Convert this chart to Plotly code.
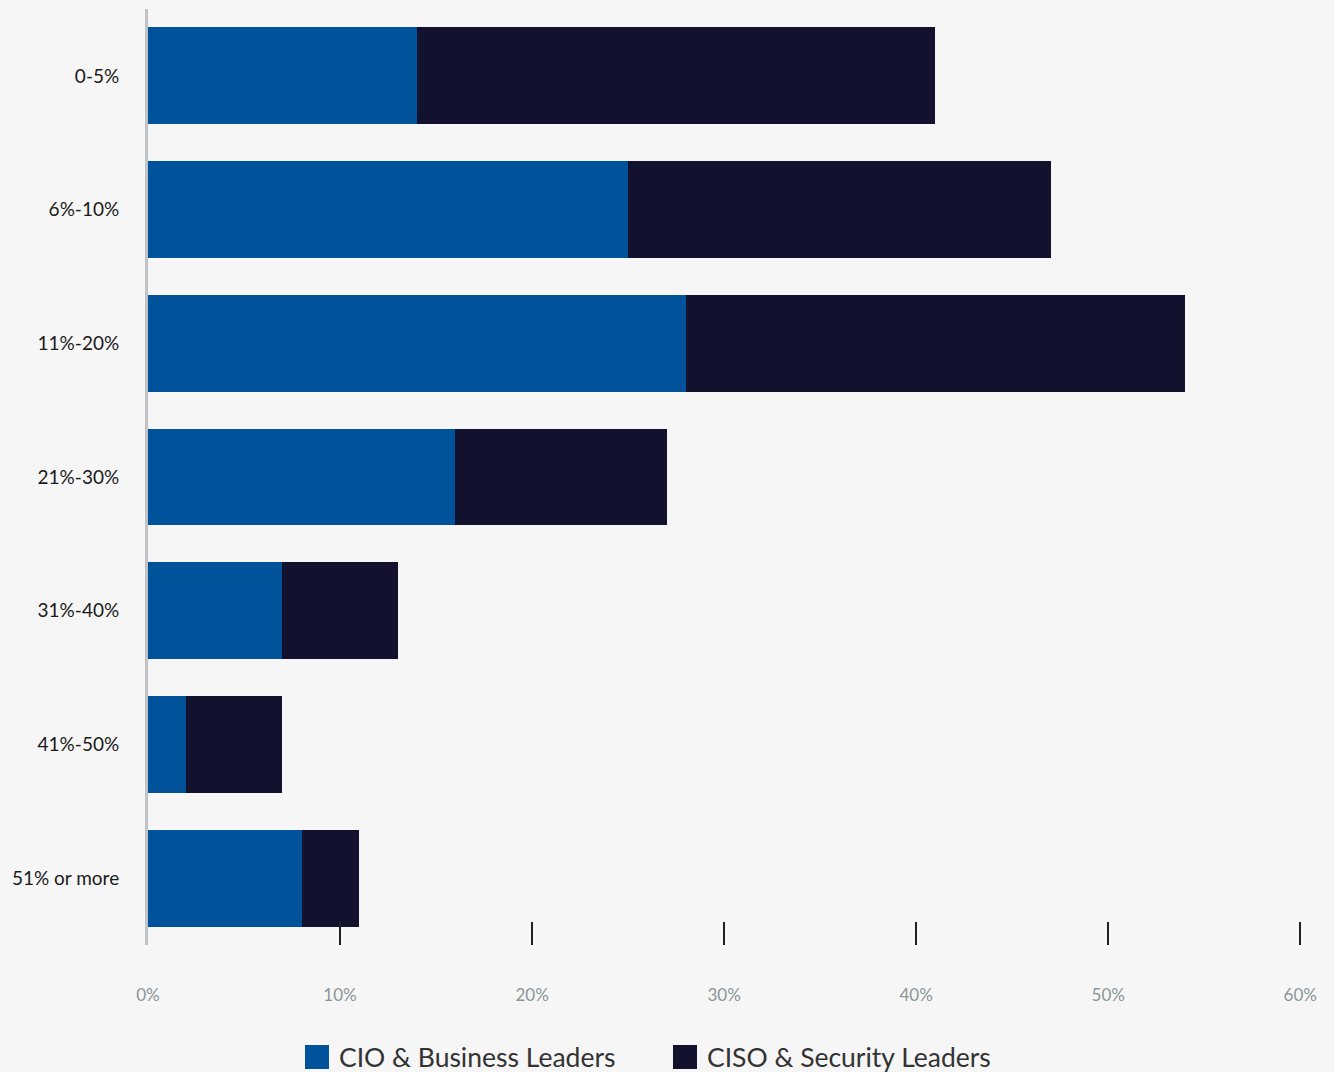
import plotly.graph_objects as go

# Share of budget ranges (rows) and the percentage of each respondent group
categories = ["0-5%", "6%-10%", "11%-20%", "21%-30%", "31%-40%", "41%-50%", "51% or more"]
cio_business = [14, 25, 28, 16, 7, 2, 8]
ciso_security = [27, 22, 26, 11, 6, 5, 3]

series_names = ["CIO & Business Leaders", "CISO & Security Leaders"]
series_colors = ["#00529b", "#12122f"]

x_tick_values = [0, 10, 20, 30, 40, 50, 60]
x_tick_labels = ["0%", "10%", "20%", "30%", "40%", "50%", "60%"]

FONT = "Lato, 'Open Sans', sans-serif"

L, R, T, B = 148, 28, 9, 127
W, H = 1334, 1072
PW, PH = W - L - R, H - T - B

fig = go.Figure()
for name, vals, color in zip(series_names, [cio_business, ciso_security], series_colors):
    fig.add_trace(go.Bar(
        y=categories, x=vals, name=name, orientation="h",
        marker=dict(color=color, line=dict(width=0)),
        showlegend=False,
        hovertemplate="%{y}: %{x}%<extra>" + name + "</extra>",
    ))

fig.update_layout(
    width=W, height=H,
    barmode="stack", bargap=0.276,
    paper_bgcolor="#f6f6f6", plot_bgcolor="rgba(0,0,0,0)",
    margin=dict(l=L, r=R, t=T, b=B),
    font=dict(family=FONT, color="#1a1a1a"),
    xaxis=dict(
        range=[0, 60.3], tickvals=x_tick_values, ticktext=x_tick_labels,
        showgrid=False, zeroline=False, showline=False,
        ticks="inside", ticklen=23, tickwidth=2, tickcolor="#222222",
        ticklabelstandoff=38,
        tickfont=dict(size=17, color="#8c9598", family=FONT),
    ),
    yaxis=dict(
        autorange="reversed", showgrid=False, zeroline=False,
        showline=True, linecolor="#c0c4c8", linewidth=3, layer="above traces",
        ticks="", ticklabelstandoff=22,
        tickfont=dict(size=19, color="#1a1a1a", family=FONT),
    ),
)

# Legend drawn as square swatches with text labels below the axis
legend_items = [(305, series_names[0], series_colors[0]), (673, series_names[1], series_colors[1])]
for x0, label, color in legend_items:
    fig.add_shape(type="rect", xref="paper", yref="paper",
                  x0=(x0 - L) / PW, x1=(x0 + 24 - L) / PW,
                  y0=-(1069 - (H - B)) / PH, y1=-(1045 - (H - B)) / PH,
                  fillcolor=color, line=dict(width=0))
    fig.add_annotation(xref="paper", yref="paper",
                       x=(x0 + 32 - L) / PW, y=-(1057 - (H - B)) / PH,
                       text=label, showarrow=False, xanchor="left", yanchor="middle",
                       font=dict(size=26.5, color="#333333", family=FONT))

fig.write_html("out.html")
